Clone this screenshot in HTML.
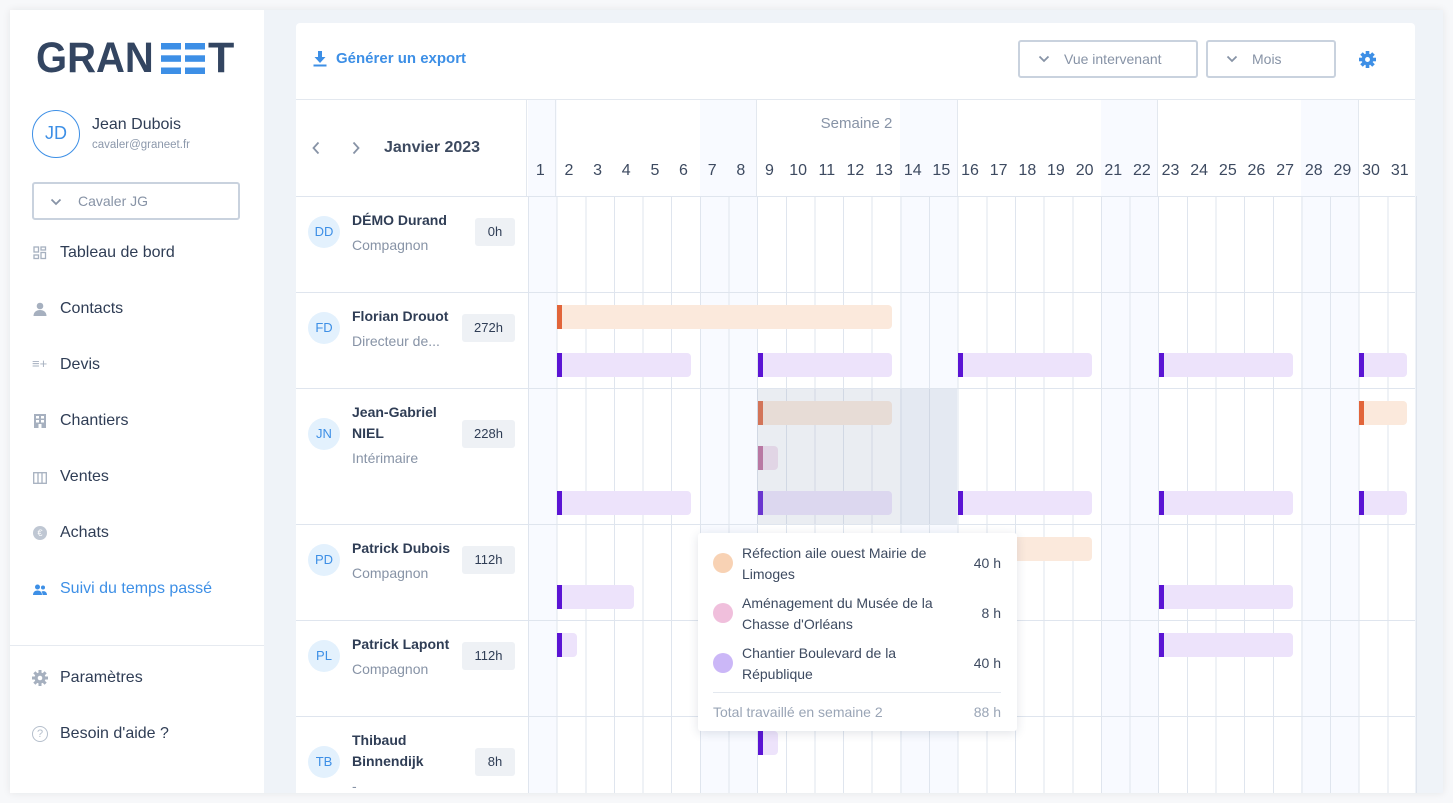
<!DOCTYPE html>
<html><head><meta charset="utf-8"><style>
*{margin:0;padding:0;box-sizing:border-box}
body{width:1453px;height:803px;background:#f7f8fa;font-family:"Liberation Sans",sans-serif;position:relative;overflow:hidden;color:#2f3d55}
.a{position:absolute}
.frame{left:10px;top:10px;width:1433px;height:783px;background:#eff3f8;box-shadow:0 0 8px rgba(0,0,0,.08)}
.side{left:10px;top:10px;width:254px;height:783px;background:#fff}
.nav{position:absolute;left:60px;font-size:16px;color:#2f3d55;line-height:20px}
.ic{position:absolute;left:33px;width:14px;height:14px}
.card{left:296px;top:23px;width:1119px;height:770px;background:#fff;border-radius:4px 4px 0 0;overflow:hidden}
.bar{position:absolute;height:24px;border-radius:0 4px 4px 0}
.bar i{position:absolute;left:0;top:0;bottom:0;width:5px}
.o{background:#fbe9dc}.o i{background:#e2653a}
.p{background:#ede3fb}.p i{background:#5b14d4}
.k{background:#f4e1ef}.k i{background:#c06a9a}
.hl{border-top:1px solid #dfe5ee}
.av{position:absolute;left:308px;width:32px;height:32px;border-radius:50%;background:#e3f1fd;color:#3d8fe6;font-size:13px;text-align:center;line-height:32px}
.nm{position:absolute;left:352px;font-size:14px;font-weight:bold;color:#2f3d55;line-height:21px}
.sb{position:absolute;left:352px;font-size:14px;color:#8793a6;line-height:20px}
.hr{position:absolute;height:28px;background:#eef1f5;border-radius:3px;font-size:13px;text-align:center;line-height:28px;color:#2f3d55}
.dn{position:absolute;top:162px;width:28.645px;text-align:center;font-size:16px;color:#3d4a60}
.tt{font-size:14px;color:#3d4a60;line-height:21px}
.chev{position:absolute;width:12px;height:8px}
</style></head><body>
<div class="a frame"></div>
<div class="a side"></div>
<div class="a" style="left:36px;top:36px;font-size:43px;font-weight:bold;color:#334561;line-height:44px;transform:scaleX(0.93);transform-origin:left">GRAN</div>
<svg class="a" style="left:161px;top:43px" width="45" height="32"><g fill="#3d8fe6"><rect x="0" y="0" width="20" height="6.5"/><rect x="0" y="12.3" width="20" height="6.5"/><rect x="0" y="24.5" width="20" height="6.5"/><rect x="24" y="0" width="20" height="6.5"/><rect x="24" y="12.3" width="20" height="6.5"/><rect x="24" y="24.5" width="20" height="6.5"/></g></svg>
<div class="a" style="left:208px;top:36px;font-size:43px;font-weight:bold;color:#334561;line-height:44px">T</div>
<div class="a" style="left:32px;top:110px;width:48px;height:48px;border:1.5px solid #3d8fe6;border-radius:50%;color:#3d8fe6;font-size:18px;text-align:center;line-height:45px">JD</div>
<div class="a" style="left:92px;top:116px;font-size:16px;color:#2f3d55">Jean Dubois</div>
<div class="a" style="left:92px;top:139px;font-size:11.5px;color:#8c98ab">cavaler@graneet.fr</div>
<div class="a" style="left:32px;top:182px;width:208px;height:38px;border:2px solid #c9d2de;border-radius:3px"></div>
<svg class="chev" style="left:50px;top:198px" viewBox="0 0 12 8"><path d="M1.5 1.5L6 6l4.5-4.5" fill="none" stroke="#8793a6" stroke-width="1.8"/></svg>
<div class="a" style="left:78px;top:193px;font-size:14px;color:#8793a6">Cavaler JG</div>
<svg class="ic" style="top:246px" viewBox="0 0 14 14" fill="none" stroke="#a6b0bf" stroke-width="1.3"><rect x="1" y="1" width="4.5" height="5"/><rect x="8" y="1" width="4.5" height="3"/><rect x="1" y="9" width="4.5" height="3.5"/><rect x="8" y="6.5" width="4.5" height="6"/></svg>
<div class="nav" style="top:243px">Tableau de bord</div>
<svg class="ic" style="top:302px" viewBox="0 0 14 14" fill="#a6b0bf"><circle cx="7" cy="4" r="3.3"/><path d="M0.5 14c0-4 3-6 6.5-6s6.5 2 6.5 6z"/></svg>
<div class="nav" style="top:299px">Contacts</div>
<div class="a" style="left:32px;top:356px;font-size:13px;color:#a6b0bf">&#8801;+</div>
<div class="nav" style="top:355px">Devis</div>
<svg class="ic" style="top:414px" viewBox="0 0 14 14" fill="#a6b0bf"><rect x="1" y="0" width="12" height="14"/><g fill="#fff"><rect x="3" y="2" width="3" height="2.5"/><rect x="8" y="2" width="3" height="2.5"/><rect x="3" y="6" width="3" height="2.5"/><rect x="8" y="6" width="3" height="2.5"/><rect x="5.5" y="10" width="3" height="4"/></g></svg>
<div class="nav" style="top:411px">Chantiers</div>
<svg class="ic" style="top:471px" viewBox="0 0 14 12" fill="none" stroke="#a6b0bf" stroke-width="1.3"><rect x="0.7" y="0.7" width="12.6" height="10.6"/><line x1="5" y1="1" x2="5" y2="11"/><line x1="9" y1="1" x2="9" y2="11"/></svg>
<div class="nav" style="top:467px">Ventes</div>
<div class="a" style="left:33px;top:526px;width:14px;height:14px;border-radius:50%;background:#bfc7d3;color:#fff;font-size:9px;text-align:center;line-height:14px">€</div>
<div class="nav" style="top:523px">Achats</div>
<svg class="ic" style="top:583px" viewBox="0 0 14 12" fill="#3d8fe6"><circle cx="4.5" cy="3" r="2.5"/><circle cx="10" cy="3.5" r="2"/><path d="M0 11c0-3 2-4.5 4.5-4.5S9 8 9 11z"/><path d="M9.5 11c0-2-0.5-3-1-3.5 2.5-1 5.5 0 5.5 3.5z"/></svg>
<div class="nav" style="top:579px;color:#3d8fe6">Suivi du temps passé</div>
<div class="a" style="left:10px;top:645px;width:254px;height:1px;background:#e6eaf0"></div>
<svg class="a" style="left:32px;top:670px" width="16" height="16" viewBox="0 0 16 16"><g fill="#a6b0bf"><circle cx="8" cy="8" r="5.5"/><rect x="6.5" y="0" width="3" height="16"/><rect x="0" y="6.5" width="16" height="3"/><rect x="6.5" y="0" width="3" height="16" transform="rotate(45 8 8)"/><rect x="6.5" y="0" width="3" height="16" transform="rotate(-45 8 8)"/></g><circle cx="8" cy="8" r="2.3" fill="#fff"/></svg>
<div class="nav" style="top:668px">Paramètres</div>
<div class="a" style="left:32px;top:726px;width:16px;height:16px;border:1.3px solid #b5bfcc;border-radius:50%;color:#b5bfcc;font-size:11px;text-align:center;line-height:14px">?</div>
<div class="nav" style="top:724px">Besoin d'aide ?</div>

<div class="a card"></div>
<svg class="a" style="left:313px;top:51px" width="14" height="16" viewBox="0 0 14 16" fill="#3d8fe6"><rect x="5" y="0" width="4" height="7"/><path d="M1.5 6h11L7 12z"/><rect x="0.5" y="13.5" width="13" height="2"/></svg>
<div class="a" style="left:336px;top:50px;font-size:15px;font-weight:bold;color:#3d8fe6">Générer un export</div>
<div class="a" style="left:1018px;top:40px;width:180px;height:38px;border:2px solid #c9d2de;border-radius:3px"></div>
<svg class="chev" style="left:1038px;top:55px" viewBox="0 0 12 8"><path d="M1.5 1.5L6 6l4.5-4.5" fill="none" stroke="#8793a6" stroke-width="1.8"/></svg>
<div class="a" style="left:1064px;top:51px;font-size:14px;color:#8793a6">Vue intervenant</div>
<div class="a" style="left:1206px;top:40px;width:130px;height:38px;border:2px solid #c9d2de;border-radius:3px"></div>
<svg class="chev" style="left:1226px;top:55px" viewBox="0 0 12 8"><path d="M1.5 1.5L6 6l4.5-4.5" fill="none" stroke="#8793a6" stroke-width="1.8"/></svg>
<div class="a" style="left:1252px;top:51px;font-size:14px;color:#8793a6">Mois</div>
<svg class="a" style="left:1359px;top:51px" width="17" height="17" viewBox="0 0 16 16"><g fill="#3d8fe6"><circle cx="8" cy="8" r="5.5"/><rect x="6.3" y="0" width="3.4" height="16"/><rect x="0" y="6.3" width="16" height="3.4"/><rect x="6.3" y="0" width="3.4" height="16" transform="rotate(45 8 8)"/><rect x="6.3" y="0" width="3.4" height="16" transform="rotate(-45 8 8)"/></g><circle cx="8" cy="8" r="2.3" fill="#fff"/></svg>

<div class="a" style="left:296px;top:99px;width:1119px;height:1px;background:#e3e8ef"></div>
<div class="a" style="left:528px;top:100px;width:28.6px;height:693px;background:#f8faff"></div>
<div class="a" style="left:699.9px;top:100px;width:57.3px;height:693px;background:#f8faff"></div>
<div class="a" style="left:900.4px;top:100px;width:57.3px;height:693px;background:#f8faff"></div>
<div class="a" style="left:1100.9px;top:100px;width:57.3px;height:693px;background:#f8faff"></div>
<div class="a" style="left:1301.4px;top:100px;width:57.3px;height:693px;background:#f8faff"></div>
<div class="a" style="left:526px;top:100px;width:1px;height:96px;background:#e3e8ef"></div>
<div class="a" style="left:555px;top:100px;width:1px;height:96px;background:#e3e8ef"></div>
<div class="a" style="left:756px;top:100px;width:1px;height:96px;background:#e3e8ef"></div>
<div class="a" style="left:957px;top:100px;width:1px;height:96px;background:#e3e8ef"></div>
<div class="a" style="left:1157px;top:100px;width:1px;height:96px;background:#e3e8ef"></div>
<div class="a" style="left:1358px;top:100px;width:1px;height:96px;background:#e3e8ef"></div>
<div class="a" style="left:527.5px;top:196px;width:889px;height:597px;background:repeating-linear-gradient(to right,#dfe5ee 0 1px,transparent 1px 28.645px)"></div>
<div class="a hl" style="left:296px;top:196px;width:1119px"></div>
<div class="a hl" style="left:296px;top:292px;width:1119px"></div>
<div class="a hl" style="left:296px;top:388px;width:1119px"></div>
<div class="a hl" style="left:296px;top:524px;width:1119px"></div>
<div class="a hl" style="left:296px;top:620px;width:1119px"></div>
<div class="a hl" style="left:296px;top:716px;width:1119px"></div>

<svg class="a" style="left:311px;top:141px" width="10" height="14" viewBox="0 0 10 14"><path d="M7.5 1.5L2.5 7l5 5.5" fill="none" stroke="#8793a6" stroke-width="1.8"/></svg>
<svg class="a" style="left:351px;top:141px" width="10" height="14" viewBox="0 0 10 14"><path d="M2.5 1.5L7.5 7l-5 5.5" fill="none" stroke="#8793a6" stroke-width="1.8"/></svg>
<div class="a" style="left:384px;top:139px;font-size:16px;font-weight:bold;color:#3d4a60">Janvier 2023</div>
<div class="a" style="left:756px;top:115px;width:201px;text-align:center;font-size:15px;color:#8793a6">Semaine 2</div>
<div class="dn" style="left:526px">1</div><div class="dn" style="left:554.6px">2</div><div class="dn" style="left:583.3px">3</div><div class="dn" style="left:611.9px">4</div><div class="dn" style="left:640.6px">5</div><div class="dn" style="left:669.2px">6</div><div class="dn" style="left:697.9px">7</div><div class="dn" style="left:726.5px">8</div><div class="dn" style="left:755.2px">9</div><div class="dn" style="left:783.8px">10</div><div class="dn" style="left:812.5px">11</div><div class="dn" style="left:841.1px">12</div><div class="dn" style="left:869.7px">13</div><div class="dn" style="left:898.4px">14</div><div class="dn" style="left:927px">15</div><div class="dn" style="left:955.7px">16</div><div class="dn" style="left:984.3px">17</div><div class="dn" style="left:1013px">18</div><div class="dn" style="left:1041.6px">19</div><div class="dn" style="left:1070.3px">20</div><div class="dn" style="left:1098.9px">21</div><div class="dn" style="left:1127.6px">22</div><div class="dn" style="left:1156.2px">23</div><div class="dn" style="left:1184.8px">24</div><div class="dn" style="left:1213.5px">25</div><div class="dn" style="left:1242.1px">26</div><div class="dn" style="left:1270.8px">27</div><div class="dn" style="left:1299.4px">28</div><div class="dn" style="left:1328.1px">29</div><div class="dn" style="left:1356.7px">30</div><div class="dn" style="left:1385.4px">31</div>

<div class="av" style="top:216px">DD</div><div class="nm" style="top:210px">DÉMO Durand</div><div class="sb" style="top:235px">Compagnon</div><div class="hr" style="left:475px;top:218px;width:40px">0h</div>
<div class="av" style="top:312px">FD</div><div class="nm" style="top:306px">Florian Drouot</div><div class="sb" style="top:331px">Directeur de...</div><div class="hr" style="left:462px;top:314px;width:53px">272h</div>
<div class="av" style="top:418px">JN</div><div class="nm" style="top:402px">Jean-Gabriel<br>NIEL</div><div class="sb" style="top:448px">Intérimaire</div><div class="hr" style="left:462px;top:420px;width:53px">228h</div>
<div class="av" style="top:544px">PD</div><div class="nm" style="top:538px">Patrick Dubois</div><div class="sb" style="top:563px">Compagnon</div><div class="hr" style="left:462px;top:546px;width:53px">112h</div>
<div class="av" style="top:640px">PL</div><div class="nm" style="top:634px">Patrick Lapont</div><div class="sb" style="top:659px">Compagnon</div><div class="hr" style="left:462px;top:642px;width:53px">112h</div>
<div class="av" style="top:746px">TB</div><div class="nm" style="top:730px">Thibaud<br>Binnendijk</div><div class="sb" style="top:776px">-</div><div class="hr" style="left:475px;top:748px;width:40px">8h</div>

<div class="bar o" style="left:557px;top:305px;width:335px"><i></i></div>
<div class="bar p" style="left:557px;top:353px;width:134px"><i></i></div>
<div class="bar p" style="left:758px;top:353px;width:134px"><i></i></div>
<div class="bar p" style="left:958px;top:353px;width:134px"><i></i></div>
<div class="bar p" style="left:1159px;top:353px;width:134px"><i></i></div>
<div class="bar p" style="left:1359px;top:353px;width:48px"><i></i></div>

<div class="bar o" style="left:758px;top:401px;width:134px"><i></i></div>
<div class="bar o" style="left:1359px;top:401px;width:48px"><i></i></div>
<div class="bar k" style="left:758px;top:446px;width:20px"><i></i></div>
<div class="bar p" style="left:557px;top:491px;width:134px"><i></i></div>
<div class="bar p" style="left:758px;top:491px;width:134px"><i></i></div>
<div class="bar p" style="left:958px;top:491px;width:134px"><i></i></div>
<div class="bar p" style="left:1159px;top:491px;width:134px"><i></i></div>
<div class="bar p" style="left:1359px;top:491px;width:48px"><i></i></div>
<div class="a" style="left:757px;top:389px;width:200px;height:135px;background:rgba(160,172,195,.22)"></div>

<div class="bar o" style="left:958px;top:537px;width:134px"><i></i></div>
<div class="bar p" style="left:557px;top:585px;width:77px"><i></i></div>
<div class="bar p" style="left:1159px;top:585px;width:134px"><i></i></div>
<div class="bar p" style="left:557px;top:633px;width:20px"><i></i></div>
<div class="bar p" style="left:1159px;top:633px;width:134px"><i></i></div>
<div class="bar p" style="left:758px;top:731px;width:20px"><i></i></div>

<div class="a" style="left:698px;top:533px;width:319px;height:198px;background:#fff;border-radius:3px;box-shadow:0 2px 10px rgba(40,60,90,.14)"></div>
<div class="a" style="left:713px;top:553px;width:20px;height:20px;border-radius:50%;background:#f8d2b4"></div>
<div class="a tt" style="left:742px;top:543px">Réfection aile ouest Mairie de<br>Limoges</div>
<div class="a tt" style="left:960px;top:553px;width:41px;text-align:right">40 h</div>
<div class="a" style="left:713px;top:603px;width:20px;height:20px;border-radius:50%;background:#f0bfdc"></div>
<div class="a tt" style="left:742px;top:593px">Aménagement du Musée de la<br>Chasse d'Orléans</div>
<div class="a tt" style="left:960px;top:603px;width:41px;text-align:right">8 h</div>
<div class="a" style="left:713px;top:653px;width:20px;height:20px;border-radius:50%;background:#cbb7f7"></div>
<div class="a tt" style="left:742px;top:643px">Chantier Boulevard de la<br>République</div>
<div class="a tt" style="left:960px;top:653px;width:41px;text-align:right">40 h</div>
<div class="a" style="left:713px;top:692px;width:288px;height:1px;background:#e3e8ef"></div>
<div class="a tt" style="left:713px;top:702px;color:#9aa5b6">Total travaillé en semaine 2</div>
<div class="a tt" style="left:960px;top:702px;width:41px;text-align:right;color:#9aa5b6">88 h</div>
</body></html>
